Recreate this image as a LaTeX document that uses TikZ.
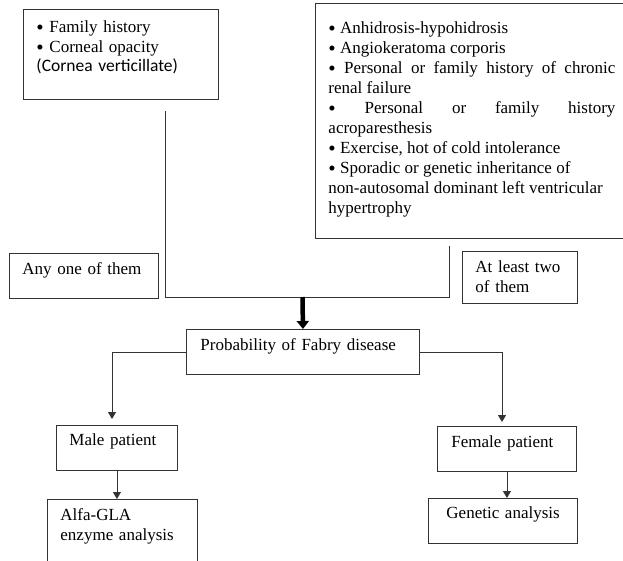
\documentclass[tikz,border=0pt]{standalone}
\usepackage{fontspec}
\setmainfont{Liberation Serif}
\newfontfamily\calibrifont{Carlito}
\usetikzlibrary{positioning}
\usetikzlibrary{arrows.meta}
\newcommand{\bul}{\raisebox{-2pt}{\fontsize{21}{20}\selectfont\textbullet}}

\begin{document}
\begin{tikzpicture}[x=1pt,y=-1pt,
	font=\fontsize{17}{20}\selectfont,
	box/.style={draw=black!80, line width=0.9pt, rectangle, anchor=north west, inner ysep=0pt, inner xsep=13pt, align=left,
		execute at begin node={\hyphenpenalty=10000\relax}},
	link/.style={draw=black!80, line width=0.9pt},
	arr/.style={link, -{Triangle[length=7pt,width=8pt]}},
	bigarr/.style={line width=4.5pt, -{Triangle[length=8pt,width=12pt]}}]
	\useasboundingbox (0,0) rectangle (623,560);
	% criteria boxes
	\node[box, text width=169pt, text height=23pt, text depth=67pt] (famhist) at (23,9)
		{\bul{} Family history\par \bul{} Corneal opacity\par
		{\calibrifont\fontsize{17.5}{19.5}\selectfont (Cornea verticillate)\par}};
	\node[box, align=justify, text width=287pt, text height=30pt, text depth=205pt] (signs) at (315,3)
		{\bul{} Anhidrosis-hypohidrosis\par
		\bul{} Angiokeratoma corporis\par
		\bul{} Personal or family history of chronic\linebreak renal failure\par
		\bul{} Personal or family history\linebreak acroparesthesis\par
		\bul{} Exercise, hot of cold intolerance\par
		\bul{} Sporadic or genetic inheritance of\newline non-autosomal dominant left ventricular\newline hypertrophy};
	\node[box, text width=123pt, text height=21pt, text depth=24pt] (anyone) at (9,253) {Any one of them};
	\node[box, text width=89pt, text height=21pt, text depth=31pt] (atleast) at (462,251) {At least two\\ of them};
	% outcome boxes
	\node[box, inner xsep=14pt, text width=205pt, text height=21pt, text depth=24pt] (prob) at (186,329) {Probability of Fabry disease};
	\node[box, text width=95pt, text height=20pt, text depth=25pt] (male) at (56,425) {Male patient};
	\node[box, inner xsep=14pt, text width=111pt, text height=21pt, text depth=24pt] (female) at (437,426) {Female patient};
	\node[box, text width=124pt, text height=21pt, text depth=59pt] (alfa) at (47,499) {Alfa-GLA\\ enzyme analysis};
	\node[box, inner xsep=9pt, text width=131pt, text height=20pt, text depth=25pt] (genetic) at (428,498) {\hspace*{9pt}Genetic analysis};
	% connectors
	\coordinate (jl) at (165,111);
	\coordinate (jr) at (449,246);
	\coordinate (jb) at (302.5,297);
	\coordinate (mtop) at (112,419);
	\coordinate (ftop) at (502,422);
	\draw[link] (jl) -- (jl |- jb) -- (jr |- jb) -- (jr);
	\draw[bigarr] (jb) -- (prob.north);
	\draw[arr] (prob.west) -| (mtop);
	\draw[arr] (prob.east) -| (ftop);
	\draw[arr] (male.south) -- (male.south |- alfa.north);
	\draw[arr] (female.south) -- (female.south |- genetic.north);
\end{tikzpicture}
\end{document}
